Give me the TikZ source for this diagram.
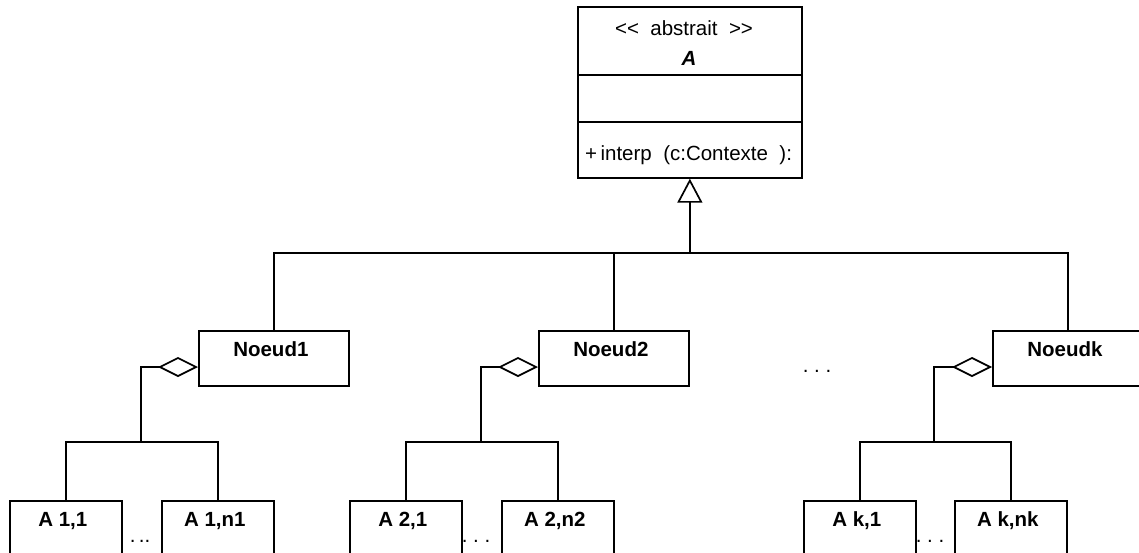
\documentclass[tikz,border=0pt]{standalone}
\usepackage{fontspec}
\setmainfont{Liberation Sans}
\usetikzlibrary{arrows.meta,calc}
\tikzset{
  umlbox/.style={draw, line width=1.7pt, rectangle, inner sep=0pt, anchor=north west, fill=white},
  childbox/.style={umlbox, minimum width=112pt, minimum height=70pt},
  nodebox/.style={umlbox, minimum width=150pt, minimum height=55pt},
  lbl/.style={inner sep=0pt, font=\fontsize{20.5}{24}\selectfont, anchor=base},
  blbl/.style={lbl, font=\fontsize{20.5}{24}\selectfont\bfseries},
  conn/.style={line width=1.7pt},
  inherit/.style={conn, -{Triangle[open, length=24pt, width=25pt, line width=1.7pt]}},
  aggr/.style={conn, -{Diamond[open, length=40pt, width=20pt, line width=1.7pt]}},
}
\begin{document}
\begin{tikzpicture}[x=1pt,y=-1pt]
\clip (0,0) rectangle (1139,552);
\fill[white] (0,0) rectangle (1139,552);

% abstract class
\node[umlbox, minimum width=224pt, minimum height=171pt] (A) at (577,6) {};
\draw[conn] (577,75) -- (801,75);
\draw[conn] (577,122) -- (801,122);
\node[lbl] (Ast) at (684,35) {<{}<\ \ abstrait\ \ >{}>};
\node[lbl, font=\fontsize{20.5}{24}\selectfont\bfseries\itshape] (Aname) at (689,65) {A};
\node[lbl, anchor=base west] (Aop) at (585,160) {+\,interp\ \ (c:Contexte\ \ ):};

% nodes
\node[nodebox] (N1) at (198,330) {};
\node[nodebox] (N2) at (538,330) {};
\node[nodebox] (Nk) at (992,330) {};
\node[blbl] (N1t) at ($(N1.north)+(-3,26)$) {Noeud1};
\node[blbl] (N2t) at ($(N2.north)+(-3,26)$) {Noeud2};
\node[blbl] (Nkt) at ($(Nk.north)+(-3,26)$) {Noeudk};
\node[lbl] (dots) at (817,372) {.\ .\ .};

% inheritance bus
\coordinate (bus) at (0,253);
\draw[conn] (N1.north) -- (N1.north |- bus) -- (Nk.north |- bus) -- (Nk.north);
\draw[conn] (N2.north) -- (N2.north |- bus);
\draw[inherit] (A.south |- bus) -- (A.south);

% children
\node[childbox] (C1a) at (9,500) {};
\node[childbox] (C1b) at (161,500) {};
\node[childbox] (C2a) at (349,500) {};
\node[childbox] (C2b) at (501,500) {};
\node[childbox] (Cka) at (803,500) {};
\node[childbox] (Ckb) at (954,500) {};
\node[blbl] (C1at) at ($(C1a.north)+(-3,26)$) {A 1,1};
\node[blbl] (C1bt) at ($(C1b.north)+(-3,26)$) {A 1,n1};
\node[blbl] (C2at) at ($(C2a.north)+(-3,26)$) {A 2,1};
\node[blbl] (C2bt) at ($(C2b.north)+(-3,26)$) {A 2,n2};
\node[blbl] (Ckat) at ($(Cka.north)+(-3,26)$) {A k,1};
\node[blbl] (Ckbt) at ($(Ckb.north)+(-3,26)$) {A k,nk};
\node[lbl] (d1) at (140,542) {.\,..};
\node[lbl] (d2) at (476,542) {.\ .\ .};
\node[lbl] (dk) at (930,542) {.\ .\ .};

% aggregation
\coordinate (j1) at (141,442);
\coordinate (j2) at (481,442);
\coordinate (jk) at (934,442);
\coordinate (a1) at (198,367);
\coordinate (a2) at (538,367);
\coordinate (ak) at (992,367);
\draw[aggr] (j1) |- (a1);
\draw[aggr] (j2) |- (a2);
\draw[aggr] (jk) |- (ak);
\draw[conn] (C1a.north) -- (C1a.north |- j1) -- (C1b.north |- j1) -- (C1b.north);
\draw[conn] (C2a.north) -- (C2a.north |- j2) -- (C2b.north |- j2) -- (C2b.north);
\draw[conn] (Cka.north) -- (Cka.north |- jk) -- (Ckb.north |- jk) -- (Ckb.north);
\end{tikzpicture}
\end{document}
